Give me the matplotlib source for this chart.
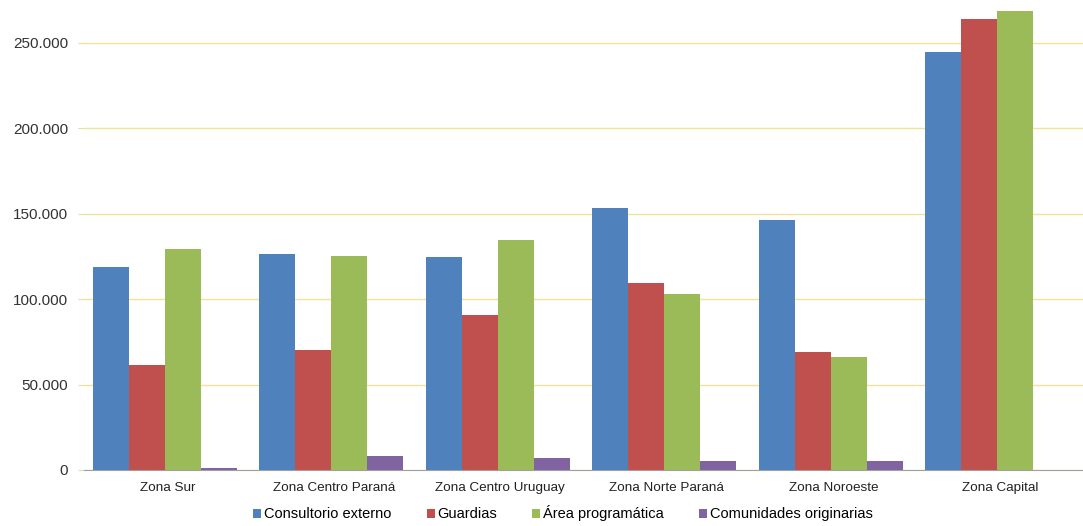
import numpy as np
import matplotlib.pyplot as plt
from matplotlib.ticker import FuncFormatter

plt.rcParams['font.family'] = ['Liberation Sans', 'DejaVu Sans']

zonas = ['Zona Sur', 'Zona Centro Paraná', 'Zona Centro Uruguay',
         'Zona Norte Paraná', 'Zona Noroeste', 'Zona Capital']
series = ['Consultorio externo', 'Guardias', 'Área programática',
          'Comunidades originarias']
consultorio = [118500, 126500, 124800, 153500, 146300, 244800]
guardias = [61500, 70300, 90700, 109500, 69200, 264000]
area = [129500, 125300, 134700, 103000, 66000, 268700]
comunidades = [1200, 8200, 7000, 5300, 5300, 0]
colors = ['#4F81BD', '#C0504D', '#9BBB59', '#8064A2']

fig = plt.figure(figsize=(10.83, 5.26), dpi=100)
ax = fig.add_axes([0.0776, 0.1065, 0.9224, 0.8935])

x = np.arange(len(zonas))
w = 0.216
data = [consultorio, guardias, area, comunidades]
for i, (vals, lab, c) in enumerate(zip(data, series, colors)):
    ax.bar(x + (i - 1.5) * w - 0.015, vals, width=w, color=c, label=lab, zorder=3)

ax.set_xlim(-0.5, len(zonas) - 0.5)
ax.set_ylim(0, 275000)
ax.set_yticks(np.arange(0, 250001, 50000))
ax.yaxis.set_major_formatter(FuncFormatter(lambda v, p: f'{int(v):,}'.replace(',', '.')))
ax.set_xticks(x)
ax.set_xticklabels(zonas)
ax.grid(axis='y', color='#F2E39A', linewidth=1, zorder=0)
ax.tick_params(axis='y', length=4.3, color='#E8DCA0', labelsize=11, colors='#333333', pad=7)
ax.tick_params(axis='x', length=0, labelsize=9.7, colors='#222222', pad=9)
for s in ['top', 'right', 'left']:
    ax.spines[s].set_visible(False)
ax.spines['bottom'].set_color('#A0A0A0')

fig.legend(loc='lower center', bbox_to_anchor=(0.52, -0.016), ncol=4, frameon=False,
           fontsize=10.5, handlelength=0.55, handleheight=0.55, handletextpad=0.2,
           columnspacing=2.4)

fig.savefig('out.png', dpi=100)
